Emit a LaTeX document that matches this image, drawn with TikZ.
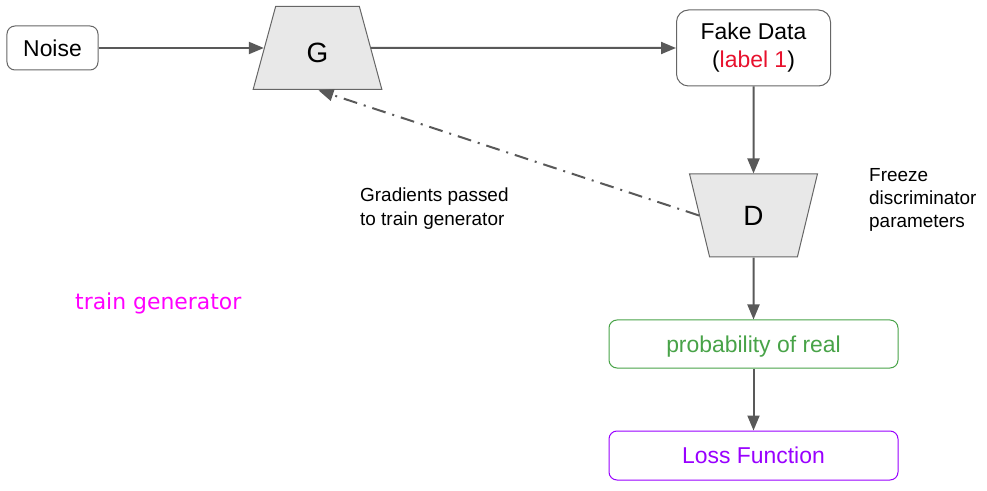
\documentclass[tikz,border=0pt]{standalone}
\usepackage{fontspec}
\setmainfont{Liberation Sans}
\newfontfamily\handfont{DejaVu Sans}
\usetikzlibrary{shapes.geometric,arrows.meta}
\definecolor{linegray}{HTML}{595959}
\definecolor{boxgray}{HTML}{666666}
\definecolor{trapfill}{HTML}{E8E8E8}
\definecolor{labelred}{RGB}{232,17,45}
\definecolor{probgreen}{RGB}{72,163,72}
\definecolor{losspurple}{RGB}{153,0,255}
\definecolor{magentatext}{RGB}{255,0,255}
\begin{document}
\begin{tikzpicture}[x=1bp,y=-1bp,
  box/.style={draw=boxgray, line width=1bp, rounded corners=8bp, fill=white, inner sep=0pt,
    font=\fontsize{23}{28}\selectfont, align=center},
  trap/.style={draw=boxgray, line width=1bp, fill=trapfill, trapezium, trapezium stretches=true,
    inner sep=0pt, font=\fontsize{28}{32}\selectfont},
  flow/.style={draw=linegray, line width=2bp, -{Triangle[length=15bp,width=12bp]}},
  note/.style={font=\fontsize{19}{23.5}\selectfont, align=left, inner sep=0pt, anchor=west}]
\useasboundingbox (0,0) rectangle (987,491);
\node[box, minimum width=91bp, minimum height=44bp] (noise) at (52.5,48) {Noise};
\node[trap, minimum width=129bp, minimum height=83bp, trapezium left angle=79,
  trapezium right angle=79, text height=30bp, text depth=0pt] (G) at (317.5,48) {G};
\node[box, rounded corners=12bp, minimum width=154bp, minimum height=76bp] (fake) at (753.5,48)
  {Fake Data\\(\textcolor{labelred}{label 1})};
\node[trap, minimum width=128bp, minimum height=83bp, trapezium left angle=103.5,
  trapezium right angle=103.5] (D) at (753.5,215.5) {D};
\node[box, draw=probgreen, text=probgreen, minimum width=289bp, minimum height=48bp,
  text depth=0pt] (prob) at (753.5,344) {probability of real};
\node[box, draw=losspurple, text=losspurple, minimum width=289bp, minimum height=49bp] (loss)
  at (753.5,455.5) {Loss Function};
\draw[flow] (noise) -- (G);
\draw[flow] (G) -- (fake);
\draw[flow] (fake) -- (D);
\draw[flow] (D) -- (prob);
\draw[flow] (prob) -- (loss);
\draw[flow, dash pattern=on 14bp off 7bp on 2bp off 7bp, shorten >=1bp] (D.west) -- (G.south);
\node[note] (freeze) at (869,200) {Freeze\\discriminator\\parameters};
\node[note] (grad) at (360,208.5) {Gradients passed\\to train generator};
\node[anchor=west, inner sep=0pt, text=magentatext, font=\handfont\fontsize{22}{26}\selectfont]
  (train) at (75,303) {train generator};
\end{tikzpicture}
\end{document}
